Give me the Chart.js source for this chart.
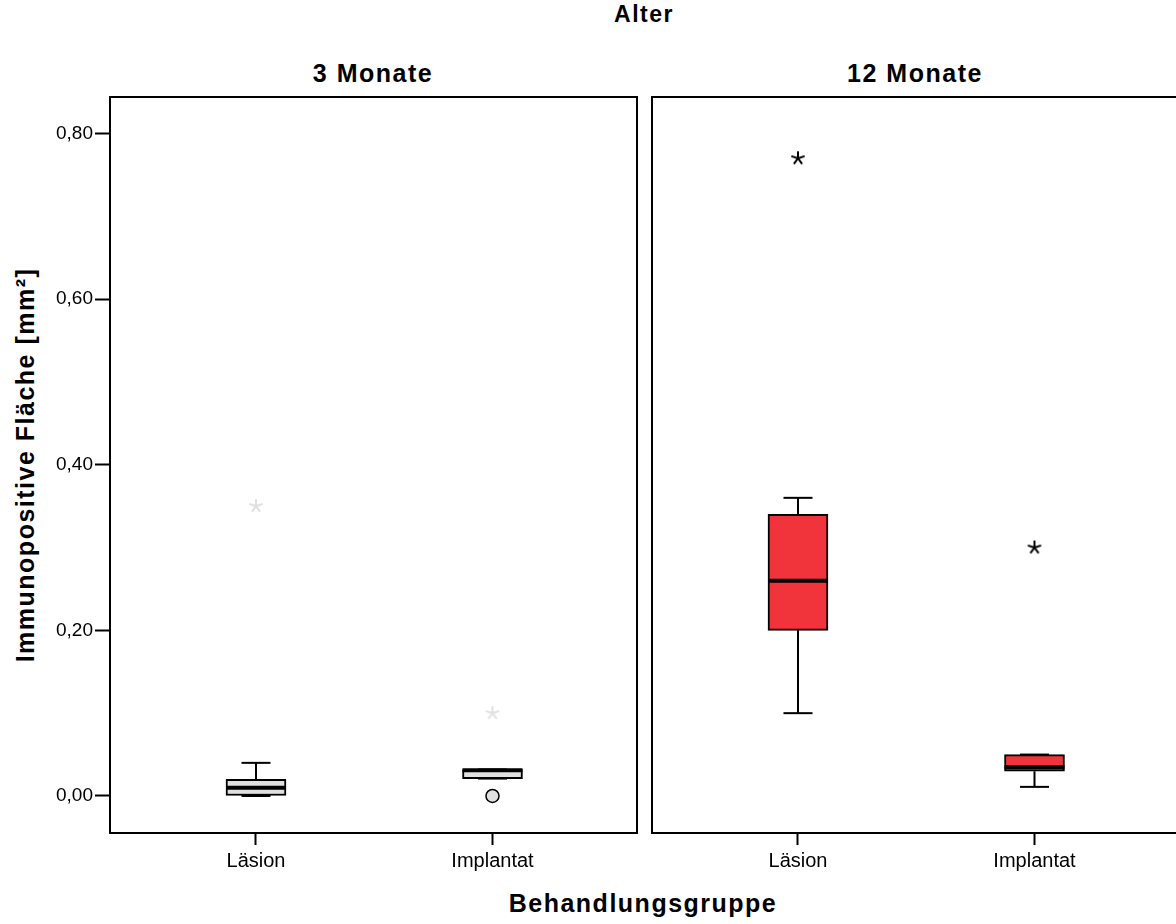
<!DOCTYPE html>
<html lang="de">
<head>
<meta charset="UTF-8">
<title>Immunopositive Fläche</title>
<script src="https://cdn.jsdelivr.net/npm/chart.js@4/dist/chart.umd.min.js"></script>
<style>
  body {
    margin: 0;
    width: 1176px;
    height: 924px;
    overflow: hidden;
    position: relative;
    background: #fff;
    font-family: "Liberation Sans", Arial, sans-serif;
    color: #000;
  }
  .lbl {
    position: absolute;
    font-weight: bold;
    letter-spacing: 1.5px;
    white-space: nowrap;
    line-height: 1;
    transform: translateX(-50%);
  }
  #ytitle {
    position: absolute;
    left: 25px;
    top: 465px;
    font-weight: bold;
    font-size: 25px;
    letter-spacing: 1.5px;
    line-height: 1;
    white-space: nowrap;
    transform: translate(-50%, -50%) rotate(-90deg);
  }
  #chartA { position: absolute; left: 0; top: 0; }
  #chartB { position: absolute; left: 645px; top: 0; }
</style>
</head>
<body>
  <div class="lbl" style="left:644px; top:3px; font-size:23px;">Alter</div>
  <div class="lbl" style="left:373px; top:61px; font-size:25px;">3 Monate</div>
  <div class="lbl" style="left:915px; top:61px; font-size:25px;">12 Monate</div>
  <div class="lbl" style="left:643px; top:891px; font-size:25px;">Behandlungsgruppe</div>
  <div id="ytitle">Immunopositive Fläche [mm²]</div>

  <canvas id="chartA" width="645" height="924"></canvas>
  <canvas id="chartB" width="534" height="924"></canvas>

<script>
// Gruppen und Positionen auf der x-Achse
const groups = ['Läsion', 'Implantat'];
const groupPos = [1, 2];

// 3 Monate (Läsion, Implantat)
const m3Min = [0.00, 0.021];
const m3Q1 = [0.00, 0.021];
const m3Median = [0.01, 0.031];
const m3Q3 = [0.02, 0.032];
const m3Max = [0.04, 0.032];
const m3Circles = [[], [0.00]];
const m3Stars = [[0.35], [0.10]];

// 12 Monate (Läsion, Implantat)
const m12Min = [0.10, 0.011];
const m12Q1 = [0.20, 0.03];
const m12Median = [0.26, 0.035];
const m12Q3 = [0.34, 0.05];
const m12Max = [0.36, 0.05];
const m12Circles = [[], []];
const m12Stars = [[0.77], [0.30]];

// Achsen
const yTickValues = [0, 0.2, 0.4, 0.6, 0.8];
const yMin = -0.0447, yMax = 0.844;
const xMin = 0.3827, xMax = 2.611;

const fontFamily = '"Liberation Sans", Arial, sans-serif';

function makeStar(color) {
    const c = document.createElement('canvas');
    c.width = 18; c.height = 18;
    const g = c.getContext('2d');
    g.strokeStyle = color;
    g.lineWidth = 2;
    g.beginPath();
    for (let k = 0; k < 5; k++) {
        const a = -Math.PI / 2 + k * 2 * Math.PI / 5;
        g.moveTo(9, 9);
        g.lineTo(9 + 7 * Math.cos(a), 9 + 7 * Math.sin(a));
    }
    g.stroke();
    return c;
}

const framePlugin = {
    id: 'frame',
    afterDatasetsDraw(chart) {
        const {ctx, chartArea: a} = chart;
        ctx.save();
        ctx.strokeStyle = '#000';
        ctx.lineWidth = 2;
        ctx.strokeRect(a.left, a.top, a.right - a.left, a.bottom - a.top);
        ctx.restore();
    }
};

function buildDatasets(mins, q1s, meds, q3s, maxs, circles, stars, fill, starColor) {
    const boxes = [], medPts = [], whisk = [], caps = [], circPts = [], starPts = [];
    groupPos.forEach((x, i) => {
        boxes.push({x: x, y: [q1s[i], q3s[i]]});
        medPts.push({x: x, y: meds[i]});
        whisk.push({x: x, y: q3s[i]}, {x: x, y: maxs[i]}, {x: x, y: null},
                   {x: x, y: q1s[i]}, {x: x, y: mins[i]}, {x: x, y: null});
        caps.push({x: x, y: maxs[i]}, {x: x, y: mins[i]});
        circles[i].forEach(v => circPts.push({x: x, y: v}));
        stars[i].forEach(v => starPts.push({x: x, y: v}));
    });
    return [
        {type: 'line', data: medPts, order: 0, showLine: false, pointStyle: 'line',
         pointRadius: 30, pointBorderWidth: 4, pointBorderColor: '#000'},
        {type: 'line', data: starPts, order: 1, showLine: false,
         pointStyle: makeStar(starColor), pointRadius: 9},
        {type: 'line', data: circPts, order: 1, showLine: false, pointStyle: 'circle',
         pointRadius: 6.5, pointBackgroundColor: '#e0e0e0', pointBorderColor: '#000', pointBorderWidth: 1.5},
        {type: 'line', data: caps, order: 2, showLine: false, pointStyle: 'line',
         pointRadius: 14.5, pointBorderWidth: 2, pointBorderColor: '#000'},
        {type: 'line', data: whisk, order: 3, showLine: true, borderColor: '#000',
         borderWidth: 2, pointRadius: 0, spanGaps: false},
        {type: 'bar', data: boxes, order: 4, backgroundColor: fill, borderColor: '#000',
         borderWidth: 2, borderSkipped: false, barThickness: 60}
    ];
}

function makeOptions(showY, padding) {
    return {
        responsive: false,
        animation: false,
        layout: {padding: padding, autoPadding: false},
        plugins: {legend: {display: false}, tooltip: {enabled: false}},
        scales: {
            x: {
                type: 'linear', min: xMin, max: xMax, offset: false,
                afterBuildTicks: s => { s.ticks = groupPos.map(v => ({value: v})); },
                afterFit: s => { s.height = 924 - 833; s.paddingLeft = 0; s.paddingRight = 0; },
                ticks: {
                    autoSkip: false, maxRotation: 0, padding: 4, color: '#000',
                    font: {family: fontFamily, size: 20},
                    callback: v => groups[groupPos.indexOf(v)]
                },
                grid: {offset: false, drawOnChartArea: false, tickLength: 12, tickColor: '#000', tickWidth: 2},
                border: {display: false}
            },
            y: {
                type: 'linear', min: yMin, max: yMax, display: showY,
                afterBuildTicks: s => { s.ticks = yTickValues.map(v => ({value: v})); },
                afterFit: s => {
                    s.width = showY ? 110 : 0;
                    s.paddingTop = 0; s.paddingBottom = 0;
                },
                ticks: {
                    padding: 2, color: '#000',
                    font: {family: fontFamily, size: 19},
                    callback: v => v.toFixed(2).replace('.', ',')
                },
                grid: {drawOnChartArea: false, tickLength: 15, tickColor: '#000', tickWidth: 2},
                border: {display: false}
            }
        }
    };
}

new Chart(document.getElementById('chartA'), {
    type: 'bar',
    data: {datasets: buildDatasets(m3Min, m3Q1, m3Median, m3Q3, m3Max, m3Circles, m3Stars, '#e0e0e0', '#e0e0e0')},
    options: makeOptions(true, {top: 97, right: 8, left: 0, bottom: 0}),
    plugins: [framePlugin]
});

new Chart(document.getElementById('chartB'), {
    type: 'bar',
    data: {datasets: buildDatasets(m12Min, m12Q1, m12Median, m12Q3, m12Max, m12Circles, m12Stars, '#f1343b', '#000')},
    options: makeOptions(false, {top: 97, right: 0, left: 7, bottom: 0}),
    plugins: [framePlugin]
});
</script>
</body>
</html>
